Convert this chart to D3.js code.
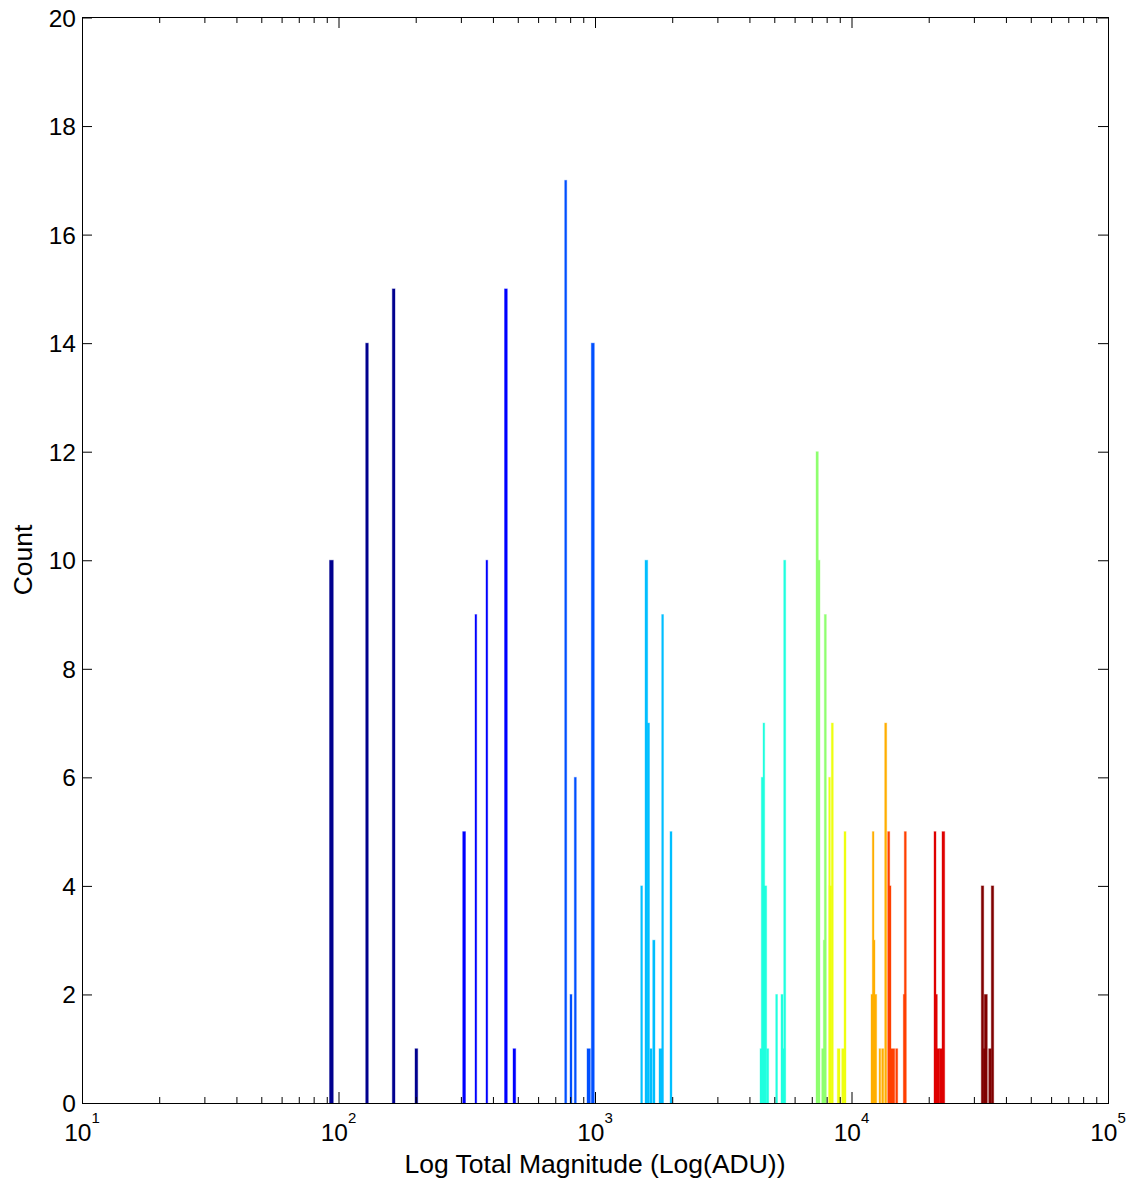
<!DOCTYPE html>
<html><head><meta charset="utf-8">
<script src="https://cdn.jsdelivr.net/npm/d3@7"></script>
<style>html,body{margin:0;padding:0;background:#fff}svg{display:block}</style>
</head><body>
<script>
// Histogram bins: log10(ADU) lower / upper edges, counts, series (group) index
const binLo = [1.9649,2.1060,2.2097,2.2982, 2.4842,2.5322,2.5750,2.6472,2.6803,
  2.8819,2.9025,2.9193,2.9688,2.9856,
  3.1782,3.1949,3.2039,3.2144,3.2250,3.2495,3.2600,3.2924,
  3.6433,3.6483,3.6550,3.6589,3.6694,3.7045,3.7251,3.7279,3.7357,
  3.8616,3.8643,3.8838,3.8901,3.8940,
  3.9111,3.9123,3.9213,3.9446,3.9618,3.9708,
  4.0760,4.0811,4.0850,4.0877,4.1072,4.1177,4.1294,
  4.1411,4.1450,4.1501,4.1723,4.2020,4.2058,
  4.3216,4.3255,4.3322,4.3423,4.3528,
  4.5060,4.5138,4.5177,4.5349,4.5450];
const binHi = [1.9797,2.1162,2.2203,2.3088, 2.4951,2.5388,2.5817,2.6581,2.6908,
  2.8897,2.9103,2.9271,2.9817,2.9973,
  3.1852,3.2055,3.2125,3.2222,3.2339,3.2612,3.2671,3.3002,
  3.6511,3.6561,3.6616,3.6694,3.6772,3.7115,3.7329,3.7407,3.7435,
  3.8706,3.8772,3.8928,3.8979,3.9018,
  3.9174,3.9228,3.9290,3.9552,3.9708,3.9786,
  4.0865,4.0877,4.0916,4.0982,4.1138,4.1255,4.1372,
  4.1489,4.1540,4.1684,4.1801,4.2113,4.2136,
  4.3294,4.3345,4.3423,4.3528,4.3634,
  4.5154,4.5244,4.5294,4.5450,4.5544];
const counts = [10,14,15,1, 5,9,10,15,1,
  17,2,6,1,14,
  4,10,7,1,3,1,9,5,
  1,6,7,4,1,2,2,1,10,
  12,10,1,3,9,
  6,4,7,1,1,5,
  2,5,3,2,1,1,7,
  5,4,1,1,2,5,
  5,2,1,1,5,
  4,1,2,1,4];
const group = [0,0,0,0, 1,1,1,1,1,
  2,2,2,2,2,
  3,3,3,3,3,3,3,3,
  4,4,4,4,4,4,4,4,4,
  5,5,5,5,5,
  6,6,6,6,6,6,
  7,7,7,7,7,7,7,
  8,8,8,8,8,8,
  9,9,9,9,9,
  10,10,10,10,10];
const groupColors = ['#00008F','#0000FF','#0050FF','#00BFFF','#20FFDF','#8FFF70',
  '#EFFF10','#FFAF00','#FF4000','#DF0000','#800000'];

const yTicks = [0,2,4,6,8,10,12,14,16,18,20];
const xMajorTicks = [1e1,1e2,1e3,1e4,1e5];
const xTickBase = '10';
const xTickExp = ['1','2','3','4','5'];
const xLabel = 'Log Total Magnitude (Log(ADU))';
const yLabel = 'Count';

const W = 1136, H = 1181;
const L = 82, R = 1108, T = 17, B = 1103;
const FONT = '"Liberation Sans", Arial, Helvetica, sans-serif';

const x = d3.scaleLog().domain([1e1, 1e5]).range([L, R]);
const y = d3.scaleLinear().domain([0, 20]).range([B, T + 0.5]);

const svg = d3.select('body').append('svg').attr('width', W).attr('height', H);

// bars
const bars = d3.range(counts.length).map(i => ({lo: binLo[i], hi: binHi[i], c: counts[i], g: group[i]}));
svg.append('g').selectAll('rect').data(bars).join('rect')
  .attr('x', d => x(Math.pow(10, d.lo)))
  .attr('width', d => x(Math.pow(10, d.hi)) - x(Math.pow(10, d.lo)))
  .attr('y', d => y(d.c))
  .attr('height', d => y(0) - y(d.c))
  .attr('fill', d => groupColors[d.g])
  .attr('stroke', d => groupColors[d.g])
  .attr('stroke-opacity', 0.35)
  .attr('stroke-width', 1);

// minor ticks on log axis
const minor = [];
for (let e = 1; e < 5; e++) for (let k = 2; k <= 9; k++) minor.push(k * Math.pow(10, e));

function styleAxis(g) {
  g.select('.domain').remove();
  g.selectAll('.tick line').attr('stroke', '#000').attr('stroke-width', 1);
  g.selectAll('.tick text').remove();
}
svg.append('g').attr('transform', `translate(0,${B})`)
  .call(d3.axisBottom(x).tickValues(xMajorTicks).tickSize(-11).tickFormat(''))
  .call(styleAxis);
svg.append('g').attr('transform', `translate(0,${B})`)
  .call(d3.axisBottom(x).tickValues(minor).tickSize(-6).tickFormat(''))
  .call(styleAxis);
svg.append('g').attr('transform', `translate(0,${T})`)
  .call(d3.axisTop(x).tickValues(xMajorTicks).tickSize(-11).tickFormat(''))
  .call(styleAxis);
svg.append('g').attr('transform', `translate(0,${T})`)
  .call(d3.axisTop(x).tickValues(minor).tickSize(-6).tickFormat(''))
  .call(styleAxis);
svg.append('g').attr('transform', `translate(${L},0)`)
  .call(d3.axisLeft(y).tickValues(yTicks).tickSize(-10).tickFormat(''))
  .call(styleAxis);
svg.append('g').attr('transform', `translate(${R},0)`)
  .call(d3.axisRight(y).tickValues(yTicks).tickSize(-10).tickFormat(''))
  .call(styleAxis);

// box
svg.append('rect').attr('x', L + 0.5).attr('y', T + 0.5).attr('width', R - L).attr('height', B - T)
  .attr('fill', 'none').attr('stroke', '#000').attr('stroke-width', 1);

// y tick labels
svg.append('g').selectAll('text').data(yTicks).join('text')
  .attr('x', L - 6).attr('y', d => y(d) + 9)
  .attr('text-anchor', 'end')
  .attr('font-family', FONT).attr('font-size', 24.5).attr('fill', '#000')
  .text(d => d);

// x tick labels with superscript exponent
const xt = svg.append('g').selectAll('text').data(xMajorTicks).join('text')
  .attr('x', d => x(d)).attr('y', B + 38)
  .attr('text-anchor', 'middle')
  .attr('font-family', FONT).attr('font-size', 24.5).attr('fill', '#000');
xt.append('tspan').text(xTickBase);
xt.append('tspan').attr('dy', -18).attr('font-size', 15).text((d, i) => xTickExp[i]);

// axis titles
svg.append('text').attr('x', (L + R) / 2).attr('y', 1173)
  .attr('text-anchor', 'middle').attr('font-family', FONT).attr('font-size', 26.5).attr('fill', '#000')
  .text(xLabel);
svg.append('text').attr('transform', `translate(32,${(T + B) / 2}) rotate(-90)`)
  .attr('text-anchor', 'middle').attr('font-family', FONT).attr('font-size', 26.5).attr('fill', '#000')
  .text(yLabel);
</script>
</body></html>
